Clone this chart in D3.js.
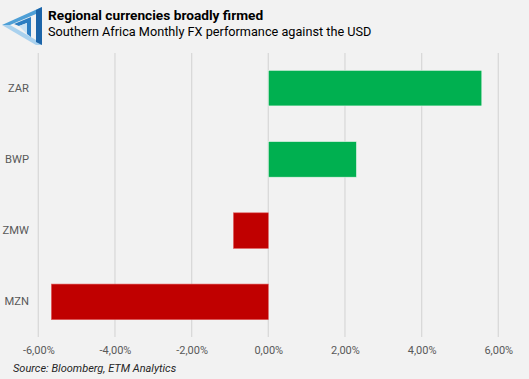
<!DOCTYPE html>
<html><head><meta charset="utf-8">
<script src="https://cdn.jsdelivr.net/npm/d3@7"></script>
<style>
html,body{margin:0;padding:0;background:#F2F2F2;}
svg{display:block;}
</style></head>
<body>
<svg id="chart" width="529" height="379"></svg>
<script>
const categories = ["ZAR", "BWP", "ZMW", "MZN"];
const values = [5.57, 2.30, -0.91, -5.66];
const tickValues = [-6, -4, -2, 0, 2, 4, 6];
const tickLabels = ["-6,00%", "-4,00%", "-2,00%", "0,00%", "2,00%", "4,00%", "6,00%"];
const title = "Regional currencies broadly firmed";
const subtitle = "Southern Africa Monthly FX performance against the USD";
const source = "Source: Bloomberg, ETM Analytics";

const svg = d3.select("#chart");
const W = 529, H = 379;
svg.append("rect").attr("width", W).attr("height", H).attr("fill", "#F2F2F2");

const x = d3.scaleLinear().domain([-6, 6]).range([38.3, 498.3]);
const y = d3.scaleBand().domain(categories).range([52.5, 337.5]).paddingInner(0.5).paddingOuter(0.25);

// gridlines
svg.append("g").selectAll("line").data(tickValues).join("line")
  .attr("x1", d => x(d)).attr("x2", d => x(d))
  .attr("y1", 53).attr("y2", 337)
  .attr("stroke", "#D9D9D9").attr("stroke-width", 1.3);

// bars
svg.append("g").selectAll("rect").data(categories).join("rect")
  .attr("x", (d, i) => Math.min(x(0), x(values[i])))
  .attr("width", (d, i) => Math.abs(x(values[i]) - x(0)))
  .attr("y", d => y(d))
  .attr("height", y.bandwidth())
  .attr("fill", (d, i) => values[i] >= 0 ? "#00B050" : "#C00000")
  .attr("stroke", (d, i) => values[i] >= 0 ? "#E8F5EC" : "#E06060")
  .attr("stroke-width", 0.6);

// x axis labels
const xAxis = d3.axisBottom(x).tickValues(tickValues).tickFormat((d, i) => tickLabels[i]).tickSize(0).tickPadding(0);
const gx = svg.append("g").attr("transform", "translate(0,346)").call(xAxis);
gx.select(".domain").remove();
gx.selectAll("text").attr("font-family", "Roboto, 'Liberation Sans', sans-serif").attr("font-size", 11).attr("fill", "#595959");

// y axis labels
const yAxis = d3.axisLeft(y).tickSize(0).tickPadding(0);
const gy = svg.append("g").attr("transform", "translate(29,0)").call(yAxis);
gy.select(".domain").remove();
gy.selectAll("text").attr("font-family", "Roboto, 'Liberation Sans', sans-serif").attr("font-size", 11.2).attr("fill", "#595959");

// titles
svg.append("text").attr("x", 48).attr("y", 20).text(title)
  .attr("font-family", "Roboto, 'Liberation Sans', sans-serif").attr("font-weight", "bold").attr("font-size", 13.7).attr("fill", "#000");
svg.append("text").attr("x", 48).attr("y", 36).text(subtitle)
  .attr("font-family", "Roboto, 'Liberation Sans', sans-serif").attr("font-size", 12.7).attr("fill", "#000");
svg.append("text").attr("x", 13).attr("y", 372).text(source)
  .attr("font-family", "Roboto, 'Liberation Sans', sans-serif").attr("font-style", "italic").attr("font-size", 11).attr("fill", "#262626");

// logo (impossible-triangle style mark)
const logo = svg.append("g");
// bottom band (lightest)
logo.append("polygon").attr("points", "2,25 10,25 36,40 42,45 36,45").attr("fill", "#A9D1EE");
// top band
logo.append("polygon").attr("points", "2,25 42,7 36,14 10,25").attr("fill", "#4E9FD6");
// right vertical band (dark)
logo.append("polygon").attr("points", "36,10 42,7 42,45 36,42").attr("fill", "#1C64A8");
// inner stroke
logo.append("polygon").attr("points", "14,24 31,17 31,37 27,34 27,23 19,26").attr("fill", "#2B7DC2");
logo.append("polygon").attr("points", "19,26 27,23 27,34").attr("fill", "#C9E2F4");
</script>
</body></html>
